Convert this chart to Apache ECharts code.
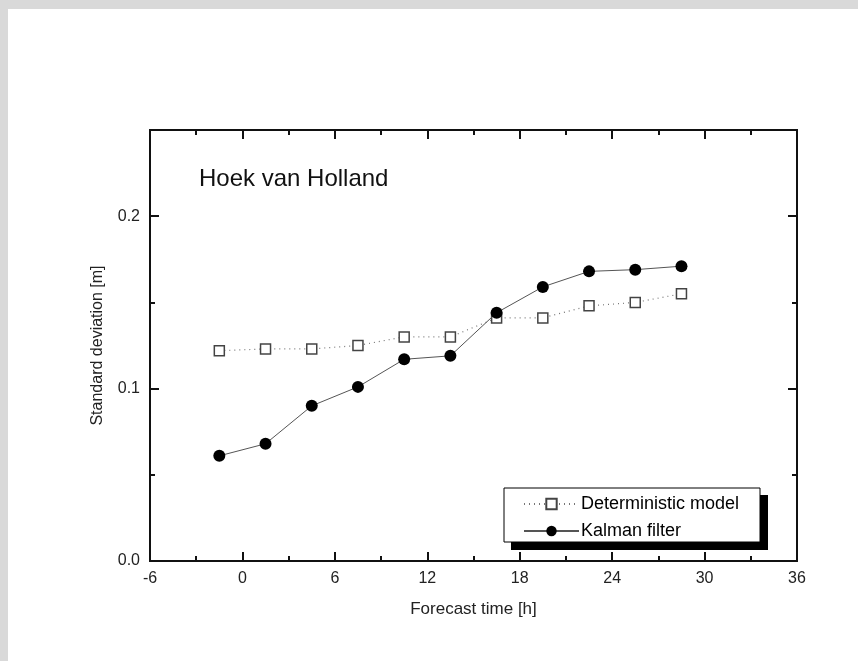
<!DOCTYPE html>
<html>
<head>
<meta charset="utf-8">
<script src="https://cdn.jsdelivr.net/npm/echarts@6/dist/echarts.min.js"></script>
<style>
  html, body { margin: 0; padding: 0; background: #ffffff; }
  #frame { position: absolute; left: 0; top: 0; width: 858px; height: 661px; background: #d9d9d9; }
  #chart { position: absolute; left: 8px; top: 9px; width: 850px; height: 652px; background: #ffffff; }
</style>
</head>
<body>
<div id="frame"></div>
<div id="chart"></div>
<script>
// ---- data ----
const forecastTime = [-1.5, 1.5, 4.5, 7.5, 10.5, 13.5, 16.5, 19.5, 22.5, 25.5, 28.5];
const deterministic = [0.122, 0.123, 0.123, 0.125, 0.130, 0.130, 0.141, 0.141, 0.148, 0.150, 0.155];
const kalman = [0.061, 0.068, 0.090, 0.101, 0.117, 0.119, 0.144, 0.159, 0.168, 0.169, 0.171];
const xTicks = [-6, 0, 6, 12, 18, 24, 30, 36];
const yTicks = [0.0, 0.1, 0.2];
const seriesNames = ['Deterministic model', 'Kalman filter'];
const titleText = 'Hoek van Holland';

const FONT = '"Liberation Sans", Arial, Helvetica, sans-serif';
const AX = '#111';

const chart = echarts.init(document.getElementById('chart'), null, { renderer: 'canvas' });

function yAxisDef(pos, interval, tickLen, labels) {
  return {
    type: 'value', position: pos, min: 0, max: 0.25, interval: interval,
    axisLine: { show: true, onZero: false, lineStyle: { color: AX, width: 2 } },
    axisTick: { show: true, inside: true, length: tickLen, lineStyle: { color: AX, width: 2 } },
    axisLabel: labels ? {
      show: true, margin: 10, color: '#222', fontSize: 16, fontFamily: FONT,
      formatter: v => yTicks.some(t => Math.abs(t - v) < 1e-9) ? v.toFixed(1) : ''
    } : { show: false },
    splitLine: { show: false },
    name: labels ? 'Standard deviation [m]' : '',
    nameLocation: 'middle', nameGap: 44,
    nameTextStyle: { color: '#222', fontSize: 16, fontFamily: FONT }
  };
}

function xAxisDef(pos, labels) {
  return {
    type: 'value', position: pos, min: -6, max: 36, interval: 6,
    axisLine: { show: true, onZero: false, lineStyle: { color: AX, width: 2 } },
    axisTick: { show: true, inside: true, length: 9, lineStyle: { color: AX, width: 2 } },
    minorTick: { show: true, splitNumber: 2, length: 5, lineStyle: { color: AX, width: 2 } },
    axisLabel: labels ? {
      show: true, margin: 10, color: '#222', fontSize: 16, fontFamily: FONT,
      formatter: v => xTicks.includes(v) ? String(v) : ''
    } : { show: false },
    splitLine: { show: false },
    minorSplitLine: { show: false },
    name: labels ? 'Forecast time [h]' : '',
    nameLocation: 'middle', nameGap: 40,
    nameTextStyle: { color: '#222', fontSize: 17, fontFamily: FONT }
  };
}

const option = {
  animation: false,
  backgroundColor: '#ffffff',
  textStyle: { fontFamily: FONT },
  title: {
    text: titleText, left: 191, top: 158, padding: 0,
    textStyle: { fontSize: 24, fontWeight: 'normal', color: '#111', fontFamily: FONT }
  },
  grid: { left: 142, right: 61, top: 121, bottom: 100 },
  xAxis: [xAxisDef('bottom', true), xAxisDef('top', false)],
  yAxis: [
    yAxisDef('left', 0.05, 5, false),
    yAxisDef('left', 0.1, 9, true),
    yAxisDef('right', 0.05, 5, false),
    yAxisDef('right', 0.1, 9, false)
  ],
  graphic: [
    { type: 'rect', z: 3, shape: { x: 503, y: 486, width: 257, height: 55 }, style: { fill: '#000' } },
    { type: 'rect', z: 3, shape: { x: 496, y: 479, width: 256, height: 54 }, style: { fill: '#fff', stroke: '#000', lineWidth: 1 } }
  ],
  legend: {
    z: 5,
    orient: 'vertical', left: 515, top: 486, padding: 0,
    itemGap: 9, itemWidth: 55, itemHeight: 13,
    data: seriesNames,
    textStyle: { fontSize: 18, color: '#000', fontFamily: FONT, padding: [0, 0, 0, -3] }
  },
  series: [
    {
      name: seriesNames[0], type: 'line', xAxisIndex: 0, yAxisIndex: 0,
      data: forecastTime.map((x, i) => [x, deterministic[i]]),
      symbol: 'rect', symbolSize: 10, z: 3,
      lineStyle: { type: [1, 4], color: '#777', width: 1.2 },
      itemStyle: { color: '#fff', borderColor: '#444', borderWidth: 1.5 }
    },
    {
      name: seriesNames[1], type: 'line', xAxisIndex: 0, yAxisIndex: 0,
      data: forecastTime.map((x, i) => [x, kalman[i]]),
      symbol: 'circle', symbolSize: 12, z: 4,
      lineStyle: { type: 'solid', color: '#555', width: 1 },
      itemStyle: { color: '#000', borderColor: '#000', borderWidth: 0 }
    }
  ]
};
chart.setOption(option);
</script>
</body>
</html>
